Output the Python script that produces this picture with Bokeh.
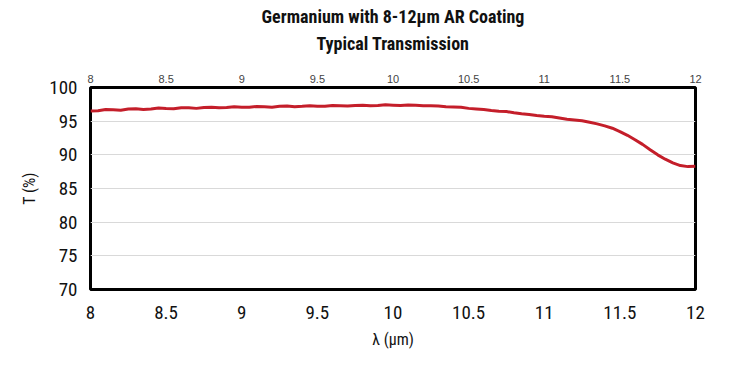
from bokeh.plotting import figure
from bokeh.models import Range1d, FixedTicker, Title, LinearAxis
from bokeh.embed import file_html
from bokeh.resources import INLINE

wavelength = [8.00, 8.05, 8.10, 8.15, 8.20, 8.25, 8.30, 8.35, 8.40, 8.45, 8.50, 8.55, 8.60, 8.65,
              8.70, 8.75, 8.80, 8.85, 8.90, 8.95, 9.00, 9.05, 9.10, 9.15, 9.20, 9.25, 9.30, 9.35,
              9.40, 9.45, 9.50, 9.55, 9.60, 9.65, 9.70, 9.75, 9.80, 9.85, 9.90, 9.95, 10.00, 10.05,
              10.10, 10.15, 10.20, 10.25, 10.30, 10.35, 10.40, 10.45, 10.50, 10.55, 10.60, 10.65,
              10.70, 10.75, 10.80, 10.85, 10.90, 10.95, 11.00, 11.05, 11.10, 11.15, 11.20, 11.25,
              11.30, 11.35, 11.40, 11.45, 11.50, 11.55, 11.60, 11.65, 11.70, 11.75, 11.80, 11.85,
              11.90, 11.95, 12.00]
transmission = [96.50, 96.55, 96.72, 96.70, 96.62, 96.80, 96.85, 96.75, 96.82, 96.95, 96.88, 96.85,
                97.00, 96.98, 96.90, 97.02, 97.08, 96.98, 97.02, 97.15, 97.08, 97.05, 97.18, 97.15,
                97.08, 97.20, 97.24, 97.14, 97.20, 97.30, 97.22, 97.20, 97.34, 97.30, 97.24, 97.34,
                97.38, 97.30, 97.34, 97.44, 97.38, 97.32, 97.40, 97.38, 97.28, 97.30, 97.26, 97.14,
                97.12, 97.06, 96.90, 96.82, 96.72, 96.58, 96.48, 96.42, 96.25, 96.10, 96.00, 95.85,
                95.72, 95.65, 95.48, 95.30, 95.18, 95.05, 94.85, 94.60, 94.30, 93.95, 93.45, 92.90,
                92.25, 91.55, 90.75, 90.00, 89.35, 88.80, 88.40, 88.25, 88.30]
x_ticks = [8, 8.5, 9, 9.5, 10, 10.5, 11, 11.5, 12]
y_ticks = [70, 75, 80, 85, 90, 95, 100]
title_lines = ["Germanium with 8-12µm AR Coating", "Typical Transmission"]

FONT = "Roboto Condensed"

p = figure(width=722, height=358, output_backend="svg", toolbar_location=None,
           x_range=Range1d(8, 12), y_range=Range1d(70, 100),
           min_border_left=90, min_border_right=27, min_border_top=80, min_border_bottom=69)

# second title line: carried by a tick-less axis above the frame (gives a clean gap)
sub = LinearAxis(ticker=FixedTicker(ticks=[]), axis_label=title_lines[1],
                 axis_line_color=None, major_tick_line_color=None, minor_tick_line_color=None,
                 major_tick_out=0, minor_tick_out=0,
                 axis_label_standoff=18, axis_label_text_font=FONT, axis_label_text_font_size="18px",
                 axis_label_text_font_style="bold", axis_label_text_color="#111111")
p.add_layout(sub, "above")
p.add_layout(Title(text=title_lines[0], align="center", text_font=FONT, text_font_size="18px",
                   text_font_style="bold", text_color="#111111", standoff=6,
                   text_line_height=1.0), "above")

p.line(wavelength, transmission, line_color="#C41E2A", line_width=3)

p.outline_line_color = "black"
p.outline_line_width = 3
p.outline_line_alpha = 1

p.xgrid.visible = False
p.ygrid.grid_line_color = "#d9d9d9"
p.ygrid.grid_line_width = 1
p.ygrid.ticker = FixedTicker(ticks=y_ticks)

p.xaxis[0].ticker = FixedTicker(ticks=x_ticks)
p.yaxis[0].ticker = FixedTicker(ticks=y_ticks)
p.xaxis[0].major_label_overrides = {8: "8", 9: "9", 10: "10", 11: "11", 12: "12"}

for ax in (p.below[0], p.yaxis[0]):
    ax.axis_line_color = None
    ax.major_tick_line_color = None
    ax.minor_tick_line_color = None
    ax.major_label_text_font = FONT
    ax.major_label_text_font_size = "19px"
    ax.major_label_text_color = "#111111"
    ax.axis_label_text_font = FONT
    ax.axis_label_text_font_size = "16px"
    ax.axis_label_text_font_style = "normal"
    ax.axis_label_text_color = "#111111"

p.below[0].axis_label = "λ (µm)"
p.yaxis[0].axis_label = "T (%)"
p.below[0].major_label_standoff = 10
p.yaxis[0].major_label_standoff = 7
p.below[0].axis_label_standoff = 8
p.yaxis[0].axis_label_standoff = 7

open("out.html", "w").write(file_html(p, INLINE))
